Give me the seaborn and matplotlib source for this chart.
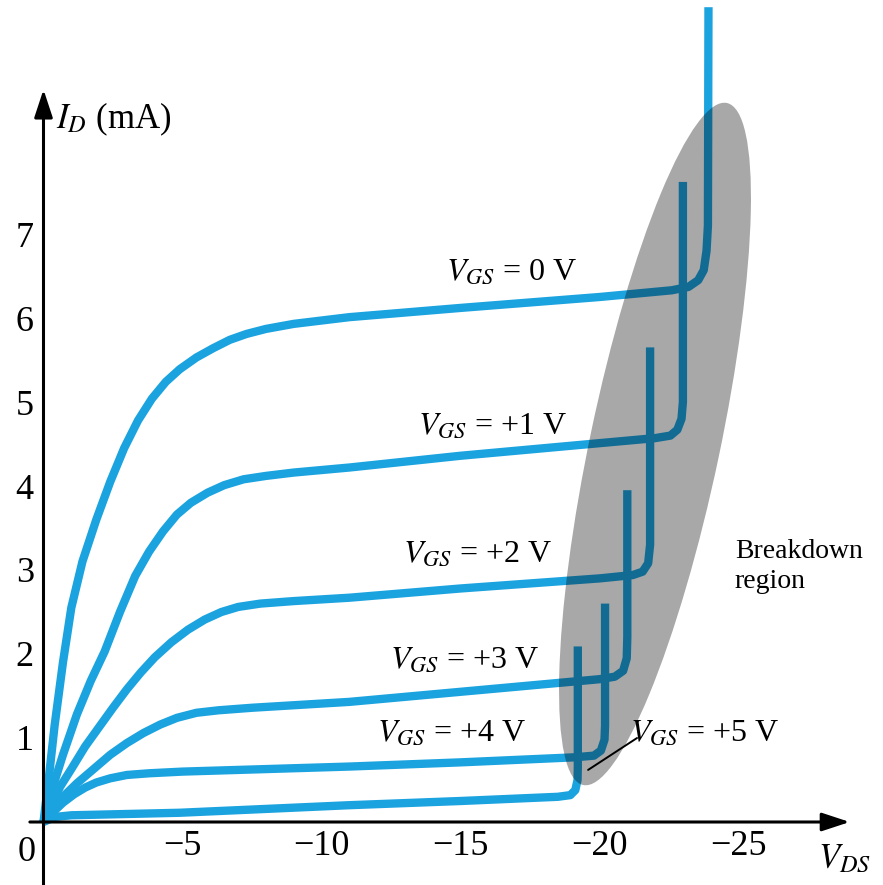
import pandas as pd
import seaborn as sns
import matplotlib.pyplot as plt
from matplotlib.patches import Ellipse

# Drain characteristics: V_DS (V, negative) vs I_D (mA)
vgs_labels = ['0', '+1', '+2', '+3', '+4', '+5']

vds_0 = [0, -0.2, -0.4, -0.7, -1.0, -1.4, -1.9, -2.4, -2.9, -3.4, -3.9, -4.4, -4.9, -5.5,
         -6.1, -6.7, -7.3, -8.0, -9.0, -11.0, -15.0, -20.0, -22.6, -23.2, -23.55, -23.75,
         -23.85, -23.9, -23.92]
id_0 = [0, 0.55, 1.15, 1.90, 2.55, 3.10, 3.60, 4.05, 4.45, 4.78, 5.04, 5.24, 5.39, 5.53,
        5.64, 5.74, 5.81, 5.87, 5.93, 6.01, 6.12, 6.25, 6.33, 6.37, 6.45, 6.57,
        6.80, 7.10, 9.70]

vds_1 = [0, -0.3, -0.7, -1.2, -1.7, -2.2, -2.75, -3.3, -3.8, -4.3, -4.8, -5.3, -5.9, -6.5,
         -7.2, -8.0, -9.0, -11.0, -15.0, -20.0, -22.0, -22.55, -22.8, -22.95, -23.0, -23.0]
id_1 = [0, 0.38, 0.80, 1.28, 1.68, 2.03, 2.50, 2.93, 3.22, 3.46, 3.66, 3.80, 3.92, 4.01,
        4.08, 4.12, 4.16, 4.22, 4.36, 4.51, 4.57, 4.60, 4.67, 4.80, 5.00, 7.62]

vds_2 = [0, -0.3, -0.6, -1.0, -1.5, -2.0, -2.5, -3.0, -3.5, -4.0, -4.6, -5.2, -5.8, -6.4,
         -7.0, -7.8, -9.0, -11.0, -15.0, -20.0, -21.2, -21.55, -21.75, -21.82, -21.82]
id_2 = [0, 0.22, 0.42, 0.63, 0.90, 1.13, 1.36, 1.58, 1.78, 1.96, 2.14, 2.29, 2.41, 2.50,
        2.56, 2.60, 2.63, 2.67, 2.78, 2.90, 2.94, 2.98, 3.08, 3.30, 5.65]

vds_3 = [0, -0.35, -0.7, -1.2, -1.8, -2.4, -3.0, -3.6, -4.2, -4.8, -5.5, -6.3, -7.5, -11.0,
         -15.0, -20.0, -20.55, -20.85, -20.98, -21.0, -21.0]
id_3 = [0, 0.16, 0.30, 0.46, 0.63, 0.80, 0.94, 1.06, 1.16, 1.24, 1.30, 1.33, 1.36, 1.43,
        1.55, 1.70, 1.73, 1.80, 1.95, 2.20, 3.95]

vds_4 = [0, -0.35, -0.7, -1.1, -1.5, -1.9, -2.4, -3.0, -3.8, -5.0, -11.0, -15.0, -19.1,
         -19.8, -20.05, -20.18, -20.2, -20.2]
id_4 = [0, 0.12, 0.23, 0.33, 0.41, 0.47, 0.52, 0.56, 0.58, 0.60, 0.66, 0.71, 0.77,
        0.79, 0.85, 0.98, 1.15, 2.60]

vds_5 = [0, -0.4, -1.0, -4.9, -11.0, -15.0, -18.5, -18.95, -19.13, -19.21, -19.22, -19.22]
id_5 = [0, 0.06, 0.08, 0.11, 0.20, 0.25, 0.30, 0.32, 0.38, 0.50, 0.65, 2.09]

x_ticks = [-5, -10, -15, -20, -25]
y_ticks = [1, 2, 3, 4, 5, 6, 7]

# long table for seaborn
curves = zip(vgs_labels, [vds_0, vds_1, vds_2, vds_3, vds_4, vds_5],
             [id_0, id_1, id_2, id_3, id_4, id_5])
df = pd.concat([pd.DataFrame({'VGS': g, 'VDS': v, 'ID': i}) for g, v, i in curves],
               ignore_index=True)

sns.set_style('white')
plt.rcParams['font.family'] = ['Liberation Serif', 'DejaVu Serif']
plt.rcParams['mathtext.fontset'] = 'stix'
plt.rcParams['text.color'] = 'black'
plt.rcParams['xtick.color'] = 'black'
plt.rcParams['ytick.color'] = 'black'

blue = '#1ba3e0'

fig = plt.figure(figsize=(8.83, 8.85), dpi=100)
ax = fig.add_axes([0, 0, 1, 1])

sns.lineplot(data=df, x='VDS', y='ID', units='VGS', estimator=None, sort=False,
             color=blue, lw=6, solid_capstyle='butt', solid_joinstyle='round', ax=ax)

# pixel mapping: origin at (43.5, 822), 27.8 px per volt, 84 px per mA
ax.set_xlim(43.5 / 27.8, -(883 - 43.5) / 27.8)
ax.set_ylim(-(885 - 822) / 84, 822 / 84)

# breakdown region shading (drawn in inches so it keeps its shape)
ell = Ellipse((6.55, 4.41), width=1.30, height=6.97, angle=-11.9,
              transform=fig.dpi_scale_trans, facecolor='black', alpha=0.34,
              edgecolor='none', zorder=3)
ax.add_patch(ell)

# axes drawn as arrows through the origin
for s in ax.spines.values():
    s.set_visible(False)
ax.spines['left'].set_position(('data', 0))
ax.spines['bottom'].set_position(('data', 0))
arrow = dict(arrowstyle='-|>,head_length=0.85,head_width=0.28', lw=2.2, color='black',
             mutation_scale=20, shrinkA=0, shrinkB=0)
ax.annotate('', xy=(-29.0, 0), xytext=(0.49, 0), arrowprops=arrow, zorder=4)
ax.annotate('', xy=(0, 8.72), xytext=(0, -0.76), arrowprops=arrow, zorder=4)

ax.set_xticks(x_ticks)
ax.set_yticks(y_ticks)
ax.tick_params(axis='x', direction='in', length=20, width=1.6, labelsize=26, pad=6)
ax.tick_params(axis='y', direction='in', length=14, width=1.6, labelsize=26, pad=7)
ax.set_xlabel('')
ax.set_ylabel('')
ax.grid(False)

ax.text(0.59, -0.36, '0', fontsize=26, ha='center', va='center')
ax.text(-0.45, 8.36, r'$I_D$ (mA)', fontsize=25, ha='left', va='center')
ax.text(-28.83, -0.45, r'$V_{DS}$', fontsize=25, ha='center', va='center')

# curve labels
label_pos = [(-16.82, 6.54), (-16.15, 4.71), (-15.61, 3.19), (-15.16, 1.92),
             (-14.68, 1.06), (-23.79, 1.06)]
for g, (x, y) in zip(vgs_labels, label_pos):
    ax.text(x, y, r'$V_{GS}$' + f' = {g} V', fontsize=23, ha='center', va='center', zorder=5)
ax.plot([-21.35, -19.59], [1.0, 0.62], color='black', lw=1.4, zorder=5)

ax.text(-24.87, 3.04, 'Breakdown\nregion', fontsize=20, ha='left', va='center',
        linespacing=1.3)

fig.savefig('out.png', dpi=100)
